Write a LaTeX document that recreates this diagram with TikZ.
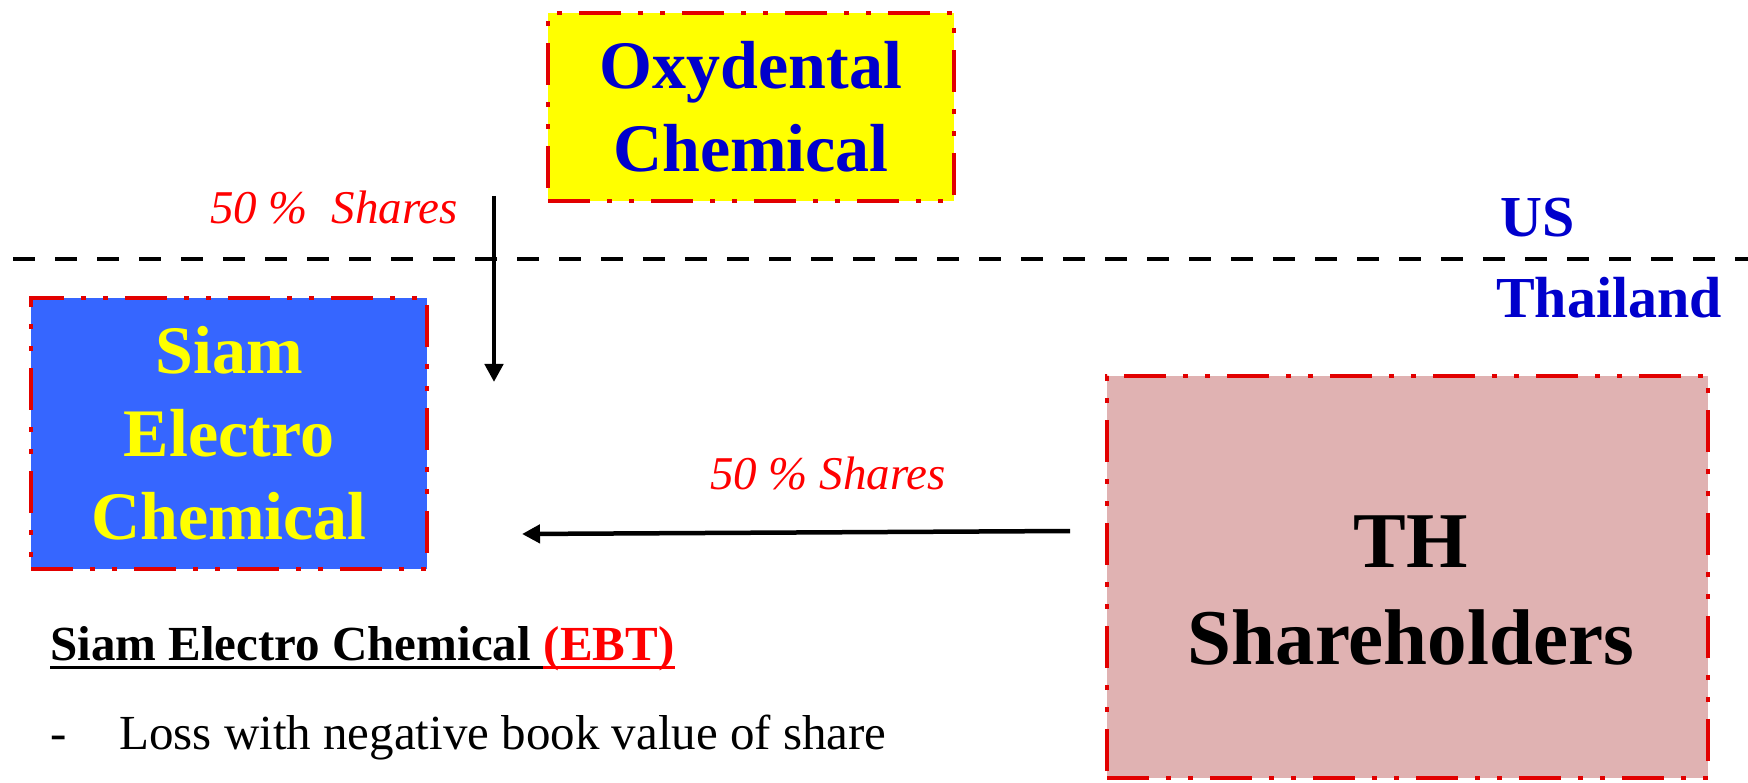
\documentclass[tikz,border=0pt]{standalone}
\usepackage{fontspec}
\setmainfont{Liberation Serif}
\usetikzlibrary{arrows.meta}
\definecolor{tblue}{RGB}{0,0,204}
\definecolor{sblue}{RGB}{54,102,255}
\definecolor{bred}{RGB}{226,0,0}
\definecolor{pinkbox}{RGB}{224,178,178}
\definecolor{ylw}{RGB}{255,255,0}
\begin{document}
\begin{tikzpicture}[x=1pt,y=-1pt,
  dashbox/.style={draw=bred, line width=4.5pt, dash pattern=on 42pt off 17pt on 5pt off 17pt on 5pt off 17pt, rectangle, inner sep=0pt, align=center},
  boxtext/.style={font=\fontsize{68}{83}\selectfont\bfseries, align=center},
  sharelbl/.style={font=\fontsize{47}{50}\selectfont\itshape, text=red, inner sep=0pt, anchor=base},
  region/.style={font=\fontsize{58}{60}\selectfont\bfseries, text=tblue, inner sep=0pt, anchor=base},
  arr/.style={line width=4.5pt, -{Triangle[length=18pt,width=18pt]}},
  bodytext/.style={anchor=base west, inner sep=0pt, font=\fontsize{49}{52}\selectfont},
]
\useasboundingbox (0,0) rectangle (1748,783);
% separator
\coordinate (sepL) at (13,259);
\coordinate (sepR) at (1748,259);
\draw[line width=4pt, dash pattern=on 22pt off 20pt] (sepL) -- (sepR);
\node[region] (us) at (1538,237) {US};
\node[region] (thai) at (1609,318) {Thailand};
% boxes
\node[dashbox, fill=ylw, minimum width=406pt, minimum height=188pt, boxtext, text=tblue] (oxy) at (751,107) {Oxydental\\Chemical};
\node[dashbox, fill=sblue, minimum width=396pt, minimum height=271pt, boxtext, text=ylw] (siam) at (229,433.5) {Siam\\Electro\\Chemical};
\node[dashbox, fill=pinkbox, minimum width=601pt, minimum height=402pt] (th) at (1407.5,577) {};
\node[font=\fontsize{79}{97}\selectfont\bfseries, align=center, inner sep=0pt] (thtext) at (1411,591) {TH\\Shareholders};
% arrows
\coordinate (a1s) at (494,196);
\coordinate (a1e) at (494,382);
\draw[arr] (a1s) -- (a1e);
\node[sharelbl] (lbl1) at (334,224) {50 \%\ \ Shares};
\coordinate (a2s) at (1070,531);
\coordinate (a2e) at (522,534);
\draw[arr] (a2s) -- (a2e);
\node[sharelbl] (lbl2) at (828,489) {50 \% Shares};
% bottom text
\node[bodytext, font=\fontsize{49}{52}\selectfont\bfseries] (hdrA) at (50,660) {Siam Electro Chemical\ \null};
\node[bodytext, font=\fontsize{49}{52}\selectfont\bfseries, text=red] (hdrB) at (hdrA.base east) {(EBT)};
\draw[line width=3pt] ([yshift=-7pt]hdrA.base west) -- ([yshift=-7pt]hdrA.base east);
\draw[line width=3pt, red] ([yshift=-7pt]hdrB.base west) -- ([yshift=-7pt]hdrB.base east);
\node[bodytext] (dash) at (50,749) {-};
\node[bodytext] (loss) at (119,749) {Loss with negative book value of share};
\end{tikzpicture}
\end{document}
